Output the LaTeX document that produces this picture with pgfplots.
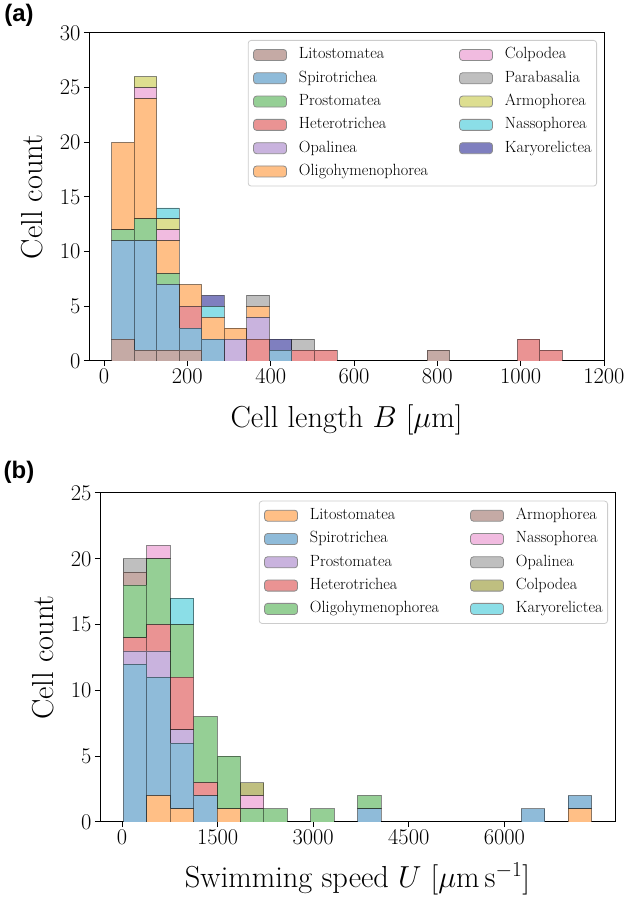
\RequirePackage{fix-cm}
\documentclass[border=0pt]{standalone}
\usepackage{fontspec}
\newfontfamily\panelfont{Liberation Sans}
\usepackage{pgfplots}
\pgfplotsset{compat=1.18}
\usepackage{pgfplotstable}

\definecolor{tblue}{HTML}{8FBBD9}
\definecolor{torange}{HTML}{FFBF86}
\definecolor{tgreen}{HTML}{95CF95}
\definecolor{tred}{HTML}{EA9393}
\definecolor{tpurple}{HTML}{C9B3DE}
\definecolor{tbrown}{HTML}{C5AAA5}
\definecolor{tpink}{HTML}{F1BBE0}
\definecolor{tgray}{HTML}{BFBFBF}
\definecolor{tolive}{HTML}{DDDE90}
\definecolor{tcyan}{HTML}{8BDEE7}
\definecolor{tnavy}{HTML}{7F7FBF}
\definecolor{tolive2}{HTML}{BFBF80}

% Panel (a): cell length histogram, bin centres (20 bins from 18 to 1100 um)
\pgfplotstableread{
x       Lito Spiro Prosto Hetero Opal Oligo Colp Parab Armo Nasso Karyo
45.05   2    9     1      0      0    8     0    0     0    0     0
99.15   1    10    2      0      0    11    1    0     1    0     0
153.25  1    6     1      0      0    3     1    0     1    1     0
207.35  1    2     0      2      0    2     0    0     0    0     0
261.45  0    2     0      0      0    2     0    0     0    1     1
315.55  0    0     0      0      2    1     0    0     0    0     0
369.65  0    0     0      2      2    1     0    1     0    0     0
423.75  0    1     0      0      0    0     0    0     0    0     1
477.85  0    0     0      1      0    0     0    1     0    0     0
531.95  0    0     0      1      0    0     0    0     0    0     0
802.45  1    0     0      0      0    0     0    0     0    0     0
1018.85 0    0     0      2      0    0     0    0     0    0     0
1072.95 0    0     0      1      0    0     0    0     0    0     0
}\tabA

% Panel (b): swimming speed histogram, bin centres (20 bins from 20 to 7370 um/s)
\pgfplotstableread{
x       Lito Spiro Prosto Hetero Oligo Armo Nasso Opal Colp Karyo
203.75  0    12    1      1      4     1    0     1    0    0
571.25  2    9     2      2      5     0    1     0    0    0
938.75  1    5     1      4      4     0    0     0    0    2
1306.25 0    2     0      1      5     0    0     0    0    0
1673.75 1    0     0      0      4     0    0     0    0    0
2041.25 0    0     0      0      1     0    1     0    1    0
2408.75 0    0     0      0      1     0    0     0    0    0
3143.75 0    0     0      0      1     0    0     0    0    0
3878.75 0    1     0      0      1     0    0     0    0    0
6451.25 0    1     0      0      0     0    0     0    0    0
7186.25 1    1     0      0      0     0    0     0    0    0
}\tabB

\pgfplotsset{
  histo/.style={
    scale only axis,
    ybar stacked,
    axis line style={line width=1bp, black},
    tick align=outside,
    xtick pos=bottom, ytick pos=left,
    major tick length=5bp,
    every tick/.style={line width=1bp, black},
    tick label style={font=\fontsize{22.5}{24}\selectfont},
    /pgf/number format/1000 sep={},
    label style={font=\fontsize{30.5}{34}\selectfont},
    ylabel style={anchor=center},
    xlabel style={anchor=center},
    legend columns=2,
    legend cell align=left,
    legend image code/.code={\draw[line width=0.8bp,##1] (0bp,-5.5bp) rectangle (33bp,5.5bp);},
    legend style={anchor=north east, draw=black!20, line width=0.8bp, rounded corners=3bp,
      fill=white, font=\fontsize{16.3}{19}\selectfont, inner xsep=5bp, inner ysep=7.5bp,
      nodes={inner sep=0pt, text height=11bp, text depth=3.2bp, anchor=west},
      row sep=9.1bp,
      /tikz/every odd column/.style={column sep=12bp},
      /tikz/every even column/.style={column sep=31bp}},
  },
  hb/.style={fill=#1, draw=black, draw opacity=0.45, line width=0.8bp, forget plot},
  lb/.style={fill=#1, draw=black!45},
}

\begin{document}
\begin{tikzpicture}
\useasboundingbox (0,0) rectangle (630bp,898bp);

% ---------------- Panel (a) ----------------
\begin{axis}[histo,
  at={(89bp,537bp)}, anchor=south west,
  width=515bp, height=328bp,
  xmin=-36.1, xmax=1200, ymin=0, ymax=30,
  bar width=54.1,
  xtick={0,200,...,1200}, ytick={0,5,...,30},
  xlabel={Cell length $B$ [$\mu$m]},
  ylabel={Cell count},
  xlabel style={at={(axis description cs:0.5,-0.180)}},
  ylabel style={at={(axis description cs:-0.110,0.5)}},
  legend style={at={(axis description cs:1,1)}, xshift=-7bp, yshift=-7bp},
]
\addplot[hb=tbrown]  table[x=x,y=Lito]   {\tabA};
\addplot[hb=tblue]   table[x=x,y=Spiro]  {\tabA};
\addplot[hb=tgreen]  table[x=x,y=Prosto] {\tabA};
\addplot[hb=tred]    table[x=x,y=Hetero] {\tabA};
\addplot[hb=tpurple] table[x=x,y=Opal]   {\tabA};
\addplot[hb=torange] table[x=x,y=Oligo]  {\tabA};
\addplot[hb=tpink]   table[x=x,y=Colp]   {\tabA};
\addplot[hb=tgray]   table[x=x,y=Parab]  {\tabA};
\addplot[hb=tolive]  table[x=x,y=Armo]   {\tabA};
\addplot[hb=tcyan]   table[x=x,y=Nasso]  {\tabA};
\addplot[hb=tnavy]   table[x=x,y=Karyo]  {\tabA};
\addlegendimage{lb=tbrown}  \addlegendentry{Litostomatea}
\addlegendimage{lb=tpink}   \addlegendentry{Colpodea}
\addlegendimage{lb=tblue}   \addlegendentry{Spirotrichea}
\addlegendimage{lb=tgray}   \addlegendentry{Parabasalia}
\addlegendimage{lb=tgreen}  \addlegendentry{Prostomatea}
\addlegendimage{lb=tolive}  \addlegendentry{Armophorea}
\addlegendimage{lb=tred}    \addlegendentry{Heterotrichea}
\addlegendimage{lb=tcyan}   \addlegendentry{Nassophorea}
\addlegendimage{lb=tpurple} \addlegendentry{Opalinea}
\addlegendimage{lb=tnavy}   \addlegendentry{Karyorelictea}
\addlegendimage{lb=torange} \addlegendentry{Oligohymenophorea}
\end{axis}

% ---------------- Panel (b) ----------------
\begin{axis}[histo,
  at={(100bp,76bp)}, anchor=south west,
  width=515bp, height=329bp,
  xmin=-347.5, xmax=7737.5, ymin=0, ymax=25,
  bar width=367.5,
  xtick={0,1500,3000,4500,6000}, ytick={0,5,...,25},
  xlabel={Swimming speed $U$ [$\mu\mathrm{m\,s}^{-1}$]},
  ylabel={Cell count},
  xlabel style={at={(axis description cs:0.5,-0.172)}},
  ylabel style={at={(axis description cs:-0.110,0.5)}},
  legend style={at={(axis description cs:1,1)}, xshift=-7bp, yshift=-7.7bp},
]
\addplot[hb=torange] table[x=x,y=Lito]   {\tabB};
\addplot[hb=tblue]   table[x=x,y=Spiro]  {\tabB};
\addplot[hb=tpurple] table[x=x,y=Prosto] {\tabB};
\addplot[hb=tred]    table[x=x,y=Hetero] {\tabB};
\addplot[hb=tgreen]  table[x=x,y=Oligo]  {\tabB};
\addplot[hb=tbrown]  table[x=x,y=Armo]   {\tabB};
\addplot[hb=tpink]   table[x=x,y=Nasso]  {\tabB};
\addplot[hb=tgray]   table[x=x,y=Opal]   {\tabB};
\addplot[hb=tolive2] table[x=x,y=Colp]   {\tabB};
\addplot[hb=tcyan]   table[x=x,y=Karyo]  {\tabB};
\addlegendimage{lb=torange} \addlegendentry{Litostomatea}
\addlegendimage{lb=tbrown}  \addlegendentry{Armophorea}
\addlegendimage{lb=tblue}   \addlegendentry{Spirotrichea}
\addlegendimage{lb=tpink}   \addlegendentry{Nassophorea}
\addlegendimage{lb=tpurple} \addlegendentry{Prostomatea}
\addlegendimage{lb=tgray}   \addlegendentry{Opalinea}
\addlegendimage{lb=tred}    \addlegendentry{Heterotrichea}
\addlegendimage{lb=tolive2} \addlegendentry{Colpodea}
\addlegendimage{lb=tgreen}  \addlegendentry{Oligohymenophorea}
\addlegendimage{lb=tcyan}   \addlegendentry{Karyorelictea}
\end{axis}

\node[font=\panelfont\bfseries\fontsize{24}{28}\selectfont] at (19bp,883bp) {(a)};
\node[font=\panelfont\bfseries\fontsize{24}{28}\selectfont] at (19bp,426bp) {(b)};
\end{tikzpicture}
\end{document}
